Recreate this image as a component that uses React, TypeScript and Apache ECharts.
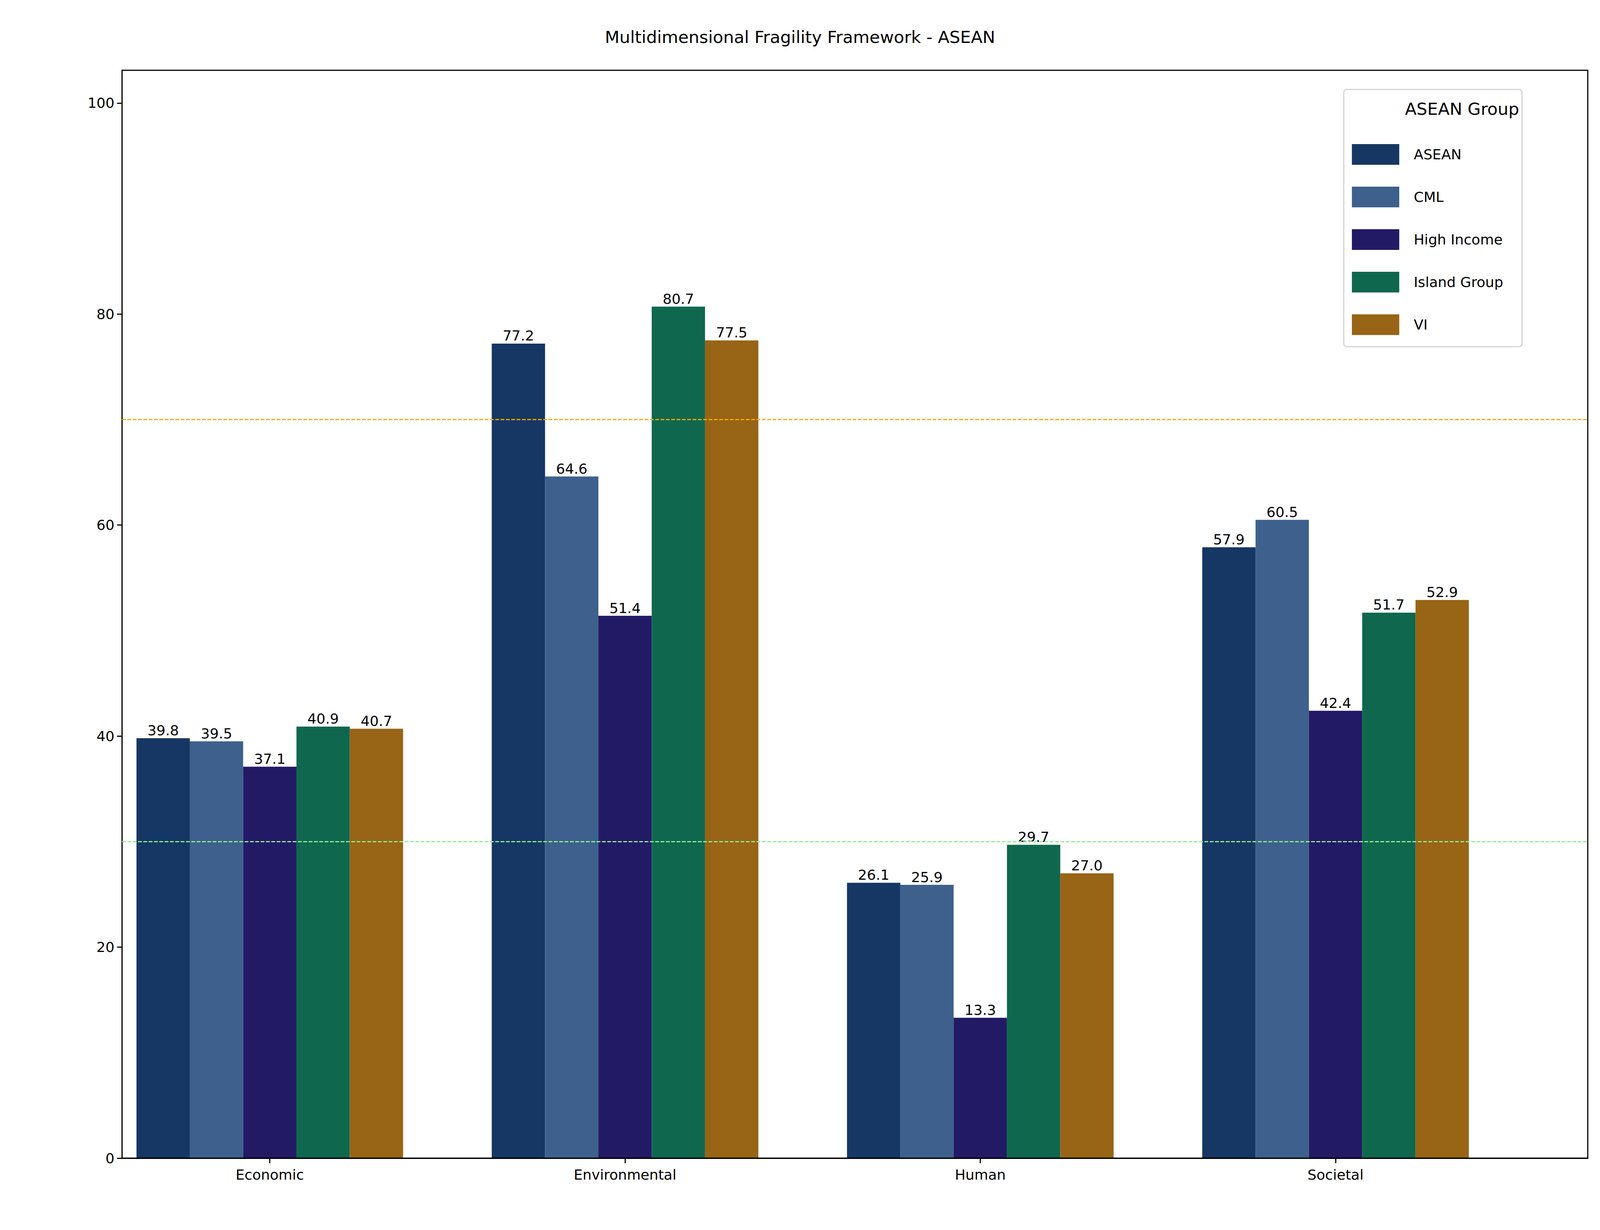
import React, { useEffect, useRef } from "react";
import * as echarts from "echarts";

const categories = ["Economic", "Environmental", "Human", "Societal"];
const groups = ["ASEAN", "CML", "High Income", "Island Group", "VI"];
const asean = [39.8, 77.2, 26.1, 57.9];
const cml = [39.5, 64.6, 25.9, 60.5];
const highIncome = [37.1, 51.4, 13.3, 42.4];
const islandGroup = [40.9, 80.7, 29.7, 51.7];
const vi = [40.7, 77.5, 27.0, 52.9];
const colors = ["#163763", "#3d618c", "#231a66", "#0f684e", "#986416"];
const yTicks = [0, 20, 40, 60, 80, 100];
const refHigh = 70;
const refLow = 30;

const seriesValues = [asean, cml, highIncome, islandGroup, vi];
const FONT = "DejaVu Sans";

export default function App() {
  const ref = useRef<HTMLDivElement>(null);
  useEffect(() => {
    const el = ref.current!;
    const chart = echarts.init(el, null, { renderer: "svg" });
    const W = el.clientWidth;
    const H = el.clientHeight;
    const sx = W / 5101;
    const sy = H / 3150;
    const s = Math.min(sx, sy);
    const X = (v: number) => v * sx;
    const Y = (v: number) => v * sy;
    const F = (v: number) => v * s;
    const gl = X(389), gt = Y(180), gw = X(5062 - 389), gh = Y(2966 - 180);

    const series: any[] = seriesValues.map((vals, si) => ({
      type: "bar",
      name: groups[si],
      data: vals.map((v, i) => [i, v]),
      barWidth: X(170),
      barGap: "0%",
      itemStyle: { color: colors[si] },
      label: {
        show: true,
        position: "top",
        distance: 2,
        color: "#000",
        fontFamily: FONT,
        fontSize: F(45),
        formatter: (p: any) => p.value[1].toFixed(1),
      },
      markLine:
        si === 0
          ? {
              silent: true,
              symbol: "none",
              label: { show: false },
              data: [
                { yAxis: refHigh, lineStyle: { color: "#ffa500", type: [F(12), F(5)], width: F(3.5) } },
                { yAxis: refLow, lineStyle: { color: "#90ee90", type: [F(12), F(5)], width: F(3.5) } },
              ],
            }
          : undefined,
    }));
    chart.setOption({
      animation: false,
      backgroundColor: "#fff",
      textStyle: { fontFamily: FONT },
      title: [
        {
          text: "Multidimensional Fragility Framework - ASEAN",
          left: "center",
          top: Y(68),
          textStyle: { fontFamily: FONT, fontSize: F(54), fontWeight: "normal", color: "#000" },
        },
        {
          text: "ASEAN Group",
          left: X(4655),
          textAlign: "center",
          top: Y(252),
          z: 10,
          textStyle: { fontFamily: FONT, fontSize: F(54), fontWeight: "normal", color: "#000" },
        },
      ],
      legend: {
        orient: "vertical",
        left: X(4284),
        top: Y(229),
        data: groups,
        itemWidth: X(151),
        itemHeight: Y(53),
        itemGap: Y(56),
        padding: [Y(140), X(60), Y(30), X(26)],
        backgroundColor: "rgba(255,255,255,0.8)",
        borderColor: "#d6d6d6",
        borderWidth: F(4),
        borderRadius: F(10),
        textStyle: { fontFamily: FONT, fontSize: F(45), color: "#000", padding: [0, 0, 0, X(40)] },
        icon: "rect",
      },
      grid: { left: gl, top: gt, width: gw, height: gh, containLabel: false },
      xAxis: {
        type: "value",
        min: -0.416,
        max: 3.71,
        splitLine: { show: false },
        axisLine: { show: true, onZero: false, lineStyle: { color: "#000", width: F(3.6) } },
        axisTick: { show: true, customValues: [0, 1, 2, 3], length: F(16), lineStyle: { color: "#000", width: F(3.6) } },
        axisLabel: {
          customValues: [0, 1, 2, 3],
          formatter: (v: number) => categories[Math.round(v)] ?? "",
          fontFamily: FONT,
          fontSize: F(45),
          color: "#000",
          margin: F(30),
        },
      },
      yAxis: {
        type: "value",
        min: 0,
        max: 103.1,
        splitLine: { show: false },
        axisLine: { show: true, onZero: false, lineStyle: { color: "#000", width: F(3.6) } },
        axisTick: { show: true, customValues: yTicks, length: F(16), lineStyle: { color: "#000", width: F(3.6) } },
        axisLabel: {
          customValues: yTicks,
          fontFamily: FONT,
          fontSize: F(45),
          color: "#000",
          margin: F(24),
        },
      },
      graphic: [
        {
          type: "rect",
          shape: { x: gl, y: gt, width: gw, height: gh },
          style: { fill: "none", stroke: "#000", lineWidth: F(3.6) },
          silent: true,
          z: 5,
        },
      ],
      series,
    });
    return () => chart.dispose();
  }, []);
  return <div ref={ref} style={{ position: "fixed", left: 0, top: 0, width: "100vw", height: "100vh" }} />;
}
